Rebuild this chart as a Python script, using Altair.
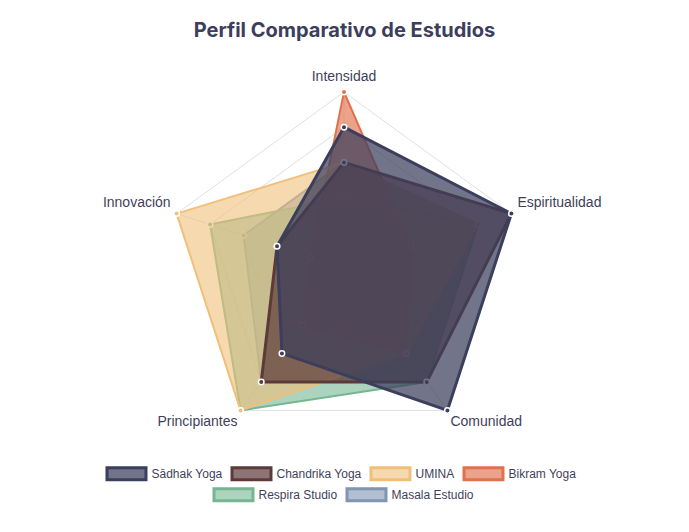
import altair as alt
import pandas as pd

# ---------------- data ----------------
AXES = ["Intensidad", "Espiritualidad", "Comunidad", "Principiantes", "Innovación"]
SERIES = ["Sādhak Yoga", "Chandrika Yoga", "UMINA", "Bikram Yoga", "Respira Studio", "Masala Estudio"]
SADHAK = [8, 10, 10, 6, 4]
CHANDRIKA = [6, 10, 8, 8, 4]
UMINA = [6, 8, 6, 10, 10]
BIKRAM = [10, 4, 6, 4, 2]
RESPIRA = [4, 8, 8, 10, 8]
MASALA = [6, 8, 8, 8, 6]
GRID_LEVELS = [2, 4, 6, 8, 10]
MAX_VALUE = 10

# ---------------- style ----------------
COLORS = ["#3b3e5c", "#5c3a3a", "#f0c07a", "#e0714f", "#74b692", "#7f95b3"]
FILL_OPACITY = [0.72, 0.7, 0.6, 0.65, 0.6, 0.6]
STROKE_W = [3, 3, 2, 2, 2, 2]
TEXT_COLOR = "#3f3f5a"
GRID_COLOR = "#e0e0e0"
FONT = "Liberation Sans"

W, H = 673, 456          # plot area
PAD_TOP = 60
CX, CY, R = 336, 200, 176  # centre and radius in plot pixels
PPU = R / MAX_VALUE
XDOM = [-CX / PPU, (W - CX) / PPU]
YDOM = [-(H - CY) / PPU, CY / PPU]


def blend(hex_color, a):
    h = hex_color.lstrip("#")
    rgb = [int(h[i:i + 2], 16) for i in (0, 2, 4)]
    out = [round(255 - a * (255 - c)) for c in rgb]
    return "#" + "".join(f"{c:02x}" for c in out)


LEGEND_FILL = [blend(c, a) for c, a in zip(COLORS, FILL_OPACITY)]

series_values = [SADHAK, CHANDRIKA, UMINA, BIKRAM, RESPIRA, MASALA]
rows = []
for s, vals in zip(SERIES, series_values):
    for i, (a, v) in enumerate(zip(AXES, vals)):
        rows.append({"series": s, "axis": a, "idx": i, "value": v})
df = pd.DataFrame(rows)

grid_df = pd.DataFrame([{"level": lv, "idx": i, "value": lv}
                        for lv in GRID_LEVELS for i in range(len(AXES))])
spoke_df = pd.DataFrame([{"idx": i, "value": v} for i in range(len(AXES)) for v in (0, MAX_VALUE)])
label_df = pd.DataFrame([{"axis": a, "idx": i, "value": MAX_VALUE} for i, a in enumerate(AXES)])

N = len(AXES)


def polar(chart):
    return chart.transform_calculate(
        ang=f"datum.idx * 2 * PI / {N}",
    ).transform_calculate(
        px="datum.value * sin(datum.ang)",
        py="datum.value * cos(datum.ang)",
    )


X = alt.X("px:Q", scale=alt.Scale(domain=XDOM, nice=False, zero=False), axis=None)
Y = alt.Y("py:Q", scale=alt.Scale(domain=YDOM, nice=False, zero=False), axis=None)

grid = polar(alt.Chart(grid_df)).mark_line(
    interpolate="linear-closed", stroke=GRID_COLOR, strokeWidth=1
).encode(x=X, y=Y, detail="level:N", order=alt.Order("idx:Q"))

spokes = polar(alt.Chart(spoke_df)).mark_line(
    stroke=GRID_COLOR, strokeWidth=1
).encode(x=X, y=Y, detail="idx:N", order=alt.Order("value:Q"))

layers = [grid, spokes]
base = polar(alt.Chart(df))
for k in reversed(range(len(SERIES))):
    sub = base.transform_filter(alt.datum.series == SERIES[k])
    poly = sub.mark_line(
        interpolate="linear-closed", fill=COLORS[k], fillOpacity=FILL_OPACITY[k],
        stroke=COLORS[k], strokeWidth=STROKE_W[k], strokeJoin="round"
    ).encode(x=X, y=Y, order=alt.Order("idx:Q"))
    pts = sub.mark_point(
        filled=True, fill=COLORS[k], stroke="white", strokeWidth=1.5, size=30, opacity=1
    ).encode(x=X, y=Y)
    layers += [poly, pts]

LABEL_STYLE = {0: ("center", 0, -15), 1: ("left", 6, -11), 2: ("left", 3, 12),
               3: ("right", -3, 12), 4: ("right", -6, -11)}
for i in range(N):
    al, dx, dy = LABEL_STYLE[i]
    layers.append(
        polar(alt.Chart(label_df)).transform_filter(alt.datum.idx == i).mark_text(
            align=al, baseline="middle", dx=dx, dy=dy, font=FONT, fontSize=14, color=TEXT_COLOR
        ).encode(x=X, y=Y, text="axis:N")
    )

main = alt.layer(*layers)


def legend_layer(names, fills, strokes, lx, ly):
    leg = alt.Legend(
        orient="none", legendX=lx, legendY=ly, direction="horizontal", title=None,
        symbolType="M-1,-0.86H4.57V0.86H-1Z", symbolSize=196, symbolStrokeWidth=3,
        symbolOpacity=1, symbolFillColor="#ffffff", symbolStrokeColor="#ffffff",
        labelFont=FONT, labelFontSize=12, labelColor=TEXT_COLOR, labelOffset=29,
        columnPadding=3, padding=0, symbolOffset=0,
    )
    sub = base.transform_filter(alt.FieldOneOfPredicate(field="series", oneOf=names))
    return sub.mark_point().encode(
        x=X, y=Y,
        fill=alt.Fill("series:N", scale=alt.Scale(domain=names, range=fills), legend=leg),
        stroke=alt.Stroke("series:N", scale=alt.Scale(domain=names, range=strokes), legend=leg),
        opacity=alt.value(0),
    )


leg1 = legend_layer(SERIES[:4], LEGEND_FILL[:4], COLORS[:4], 97.5, 397)
leg2 = legend_layer(SERIES[4:], LEGEND_FILL[4:], COLORS[4:], 204.5, 418)

chart = alt.layer(main, leg1, leg2).resolve_scale(
    fill="independent", stroke="independent"
).properties(
    width=W, height=H,
    padding={"top": PAD_TOP, "left": 0, "right": 0, "bottom": 0},
    autosize=alt.AutoSizeParams(type="none"),
    title=alt.Title("Perfil Comparativo de Estudios", font="Inter", fontSize=20,
                    fontWeight="bold", color="#3d3d5c", anchor="middle", offset=27),
).configure_view(stroke=None)

chart.save("out.html", embed_options={"renderer": "svg", "actions": False})
